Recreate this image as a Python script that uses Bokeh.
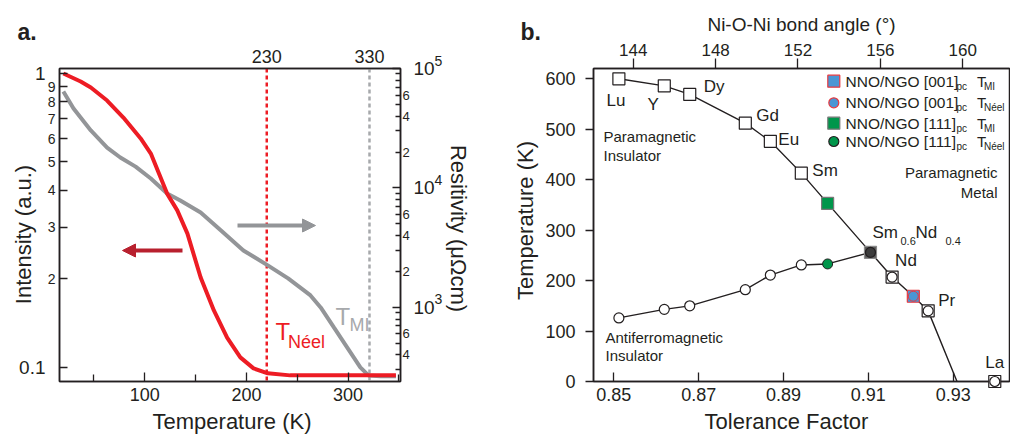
import math
from bokeh.plotting import figure
from bokeh.models import (Range1d, LogAxis, LinearAxis, FixedTicker, LogScale,
                          Arrow, NormalHead, Span)
from bokeh.layouts import row
from bokeh.embed import file_html
from bokeh.resources import INLINE
from bokeh.core.properties import value

FONT = "Liberation Sans"
INK = "#231f20"
RED = "#ed1c24"
DARKRED = "#b8202e"
GRAY = "#939598"
LIGHTGRAY = "#a7a9ac"
BLUE = "#4a96d4"
EDGE_RED = "#e8393f"
GREEN = "#00964b"

# ---------------- Panel a data ----------------
red_temp = [20, 37, 47, 63, 79, 96, 106, 114, 122, 132, 142, 155, 168, 181, 194, 207, 221, 243, 347]
red_intensity = [1.0, 0.939, 0.896, 0.809, 0.708, 0.601, 0.534, 0.457, 0.390, 0.342, 0.285,
                 0.202, 0.156, 0.126, 0.108, 0.0991, 0.0953, 0.0938, 0.0938]
gray_temp = [20, 30, 47, 63, 76, 91, 106, 122, 135, 155, 175, 197, 221, 241, 263, 273, 286,
             299, 312, 320, 332, 347]
gray_resistivity = [64200, 46300, 30300, 21800, 18000, 15100, 12000, 9000, 7860, 6240, 4410,
                    3000, 2250, 1750, 1260, 1000, 680, 463, 315, 270, 265, 265]
transition_temp = [220, 321]
transition_labels = ["230", "330"]
left_ticks = [0.1, 0.2, 0.3, 0.4, 0.5, 0.6, 0.7, 0.8, 0.9, 1.0]
left_tick_labels = ["0.1", "2", "3", "4", "5", "6", "7", "8", "9", "1"]
right_major = [1e3, 1e4, 1e5]
right_minor_labelled = [400, 600, 2000, 4000, 6000, 20000, 40000, 60000]
right_minor_text = ["4", "6", "2", "4", "6", "2", "4", "6"]

# ---------------- Panel b data ----------------
tol_factor = [0.8512, 0.8619, 0.8679, 0.8810, 0.8869, 0.8942, 0.9105, 0.9156, 0.9241, 0.9398]
element = ["Lu", "Y", "Dy", "Gd", "Eu", "Sm", "Sm0.6Nd0.4", "Nd", "Pr", "La"]
t_mi = [600, 586, 569, 512, 476, 413, 256, 207, 140, 0]
t_neel = [126, 143, 150, 182, 211, 231, 256, 207, 140, 0]
film_tf = [0.9206, 0.9004]          # [001]pc, [111]pc
film_tmi = [169, 353]
film_tneel = [169, 233]
tmi_end_tf = 0.9309                 # T_MI extrapolates to 0 K
angle_ticks = [144, 148, 152, 156, 160]
tf_ticks = [0.85, 0.87, 0.89, 0.91, 0.93]
temp_ticks = [0, 100, 200, 300, 400, 500, 600]


def style_axis(ax, size="18px"):
    ax.axis_line_color = INK
    ax.axis_line_width = 1.5
    ax.major_tick_line_color = INK
    ax.minor_tick_line_color = INK
    ax.major_tick_line_width = 1.3
    ax.minor_tick_line_width = 1.3
    ax.major_label_text_font = FONT
    ax.major_label_text_font_size = size
    ax.major_label_text_color = INK
    ax.axis_label_text_font = FONT
    ax.axis_label_text_font_style = "normal"
    ax.axis_label_text_font_size = "20px"
    ax.axis_label_text_color = INK


def lab(p, x, y, text, size, color=INK, align="left", style="normal", baseline="middle", **kw):
    """Text glyph drawn at overlay level (not clipped by the frame)."""
    r = p.text([x], [y], text=[text], text_font=value(FONT), text_font_size=size,
               text_color=color, text_align=align, text_baseline=baseline,
               text_font_style=style, **kw)
    r.level = "overlay"
    return r


# =============== Panel a ===============
AX0, AX1 = 16.2, 351.5
AYL0, AYL1 = 0.0894, 1.04
AYR0, AYR1 = 240.0, 1e5
AL, AT, AW, AH = 59, 68, 341, 313


def a_x(px):
    return AX0 + (px - AL) * (AX1 - AX0) / AW


def a_yl(py):
    l0, l1 = math.log10(AYL0), math.log10(AYL1)
    return 10 ** (l1 - (py - AT) * (l1 - l0) / AH)


def a_yr(py):
    l0, l1 = math.log10(AYR0), math.log10(AYR1)
    return 10 ** (l1 - (py - AT) * (l1 - l0) / AH)


pa = figure(frame_width=AW, frame_height=AH, min_border_left=AL, min_border_right=100,
            min_border_top=AT, min_border_bottom=56, title=None,
            x_range=Range1d(AX0, AX1), y_range=Range1d(AYL0, AYL1), y_axis_type="log",
            output_backend="svg", toolbar_location=None)
pa.extra_y_ranges = {"r": Range1d(AYR0, AYR1)}
pa.extra_y_scales = {"r": LogScale()}
pa.grid.visible = False
pa.outline_line_color = INK
pa.outline_line_width = 1.5

# bottom axis
xa = pa.xaxis[0]
style_axis(xa)
xa.ticker = FixedTicker(ticks=[100, 200, 300], minor_ticks=[50, 150, 250, 350])
xa.major_tick_in, xa.major_tick_out = 9, 0
xa.minor_tick_in, xa.minor_tick_out = 7, 0
xa.major_label_standoff = 6

# left axis
ya = pa.yaxis[0]
style_axis(ya, "14px")
ya.ticker = FixedTicker(ticks=left_ticks, minor_ticks=[])
ya.major_label_overrides = {t: (l_ if len(l_) == 1 and l_ != "1" else "")
                            for t, l_ in zip(left_ticks, left_tick_labels)}
ya.major_tick_in, ya.major_tick_out = 8, 0
ya.major_label_standoff = 4

# top axis
ta = LinearAxis(ticker=FixedTicker(ticks=transition_temp, minor_ticks=[]),
                major_label_overrides=dict(zip(transition_temp, transition_labels)))
style_axis(ta)
ta.major_tick_in, ta.major_tick_out = 0, 0
ta.major_label_standoff = 6
pa.add_layout(ta, "above")

# right axis
minor_r = [m * 10 ** e for e in (2, 3, 4) for m in range(2, 10) if AYR0 <= m * 10 ** e <= AYR1]
ra = LogAxis(y_range_name="r", ticker=FixedTicker(ticks=right_major, minor_ticks=minor_r),
             major_label_overrides={t: "" for t in right_major})
style_axis(ra)
ra.major_tick_in, ra.major_tick_out = 8, 0
ra.minor_tick_in, ra.minor_tick_out = 5, 0
pa.add_layout(ra, "right")

# transition markers
for tt, col in zip(transition_temp, [RED, LIGHTGRAY]):
    pa.add_layout(Span(location=tt, dimension="height", line_color=col, line_width=2.5,
                       line_dash="4 3", level="underlay"))

pa.line(gray_temp, gray_resistivity, y_range_name="r", line_color=GRAY, line_width=4)
pa.line(red_temp, red_intensity, line_color=RED, line_width=4)

# arrows
pa.add_layout(Arrow(end=NormalHead(size=13, fill_color=DARKRED, line_color=DARKRED),
                    x_start=a_x(182), y_start=a_yl(250), x_end=a_x(122), y_end=a_yl(250),
                    line_color=DARKRED, line_width=4))
pa.add_layout(Arrow(end=NormalHead(size=13, fill_color=GRAY, line_color=GRAY),
                    x_start=a_x(237), y_start=a_yr(225), x_end=a_x(315), y_end=a_yr(225),
                    y_range_name="r", line_color=GRAY, line_width=4))

# in-plot labels
lab(pa, a_x(275), a_yl(331), "T", "24px", RED)
lab(pa, a_x(287.5), a_yl(341), "Néel", "18px", RED)
lab(pa, a_x(335), a_yl(316), "T", "24px", LIGHTGRAY)
lab(pa, a_x(349), a_yl(324), "MI", "18px", LIGHTGRAY)

# big left tick labels (outside the frame)
for t, l in zip(left_ticks, left_tick_labels):
    if l in ("1", "0.1"):
        lab(pa, a_x(45), t, l, "19px", align="right")
# right tick labels
for t, l in zip(right_minor_labelled, right_minor_text):
    lab(pa, a_x(402), t, l, "13px", y_range_name="r")
for t in right_major:
    lab(pa, a_x(413), t, "10", "19px", y_range_name="r")
    lab(pa, a_x(434), t, str(int(round(math.log10(t)))), "14px", y_range_name="r", y_offset=-8)

# axis titles
lab(pa, a_x(231.5), a_yl(421), "Temperature (K)", "22px", align="center")
lab(pa, a_x(23), a_yl(234), "Intensity (a.u.)", "22px", align="center", angle=math.pi / 2)
lab(pa, a_x(457.5), a_yl(228), "Resitivity (μΩcm)", "22px", align="center", angle=-math.pi / 2)
lab(pa, a_x(17), a_yl(31), "a.", "23px", style="bold")

# =============== Panel b ===============
BX0, BX1 = 0.845215, 0.943271
BY0, BY1 = 0.0, 620.4
BA0, BA1 = 142.07, 162.27
BL, BT, BW, BH = 93, 68, 416, 313
BORIG = 500


def b_x(px):
    return BX0 + (px - BORIG - BL) * (BX1 - BX0) / BW


def b_y(py):
    return BY1 - (py - BT) * (BY1 - BY0) / BH


pb = figure(frame_width=BW, frame_height=BH, min_border_left=BL, min_border_right=1,
            min_border_top=BT, min_border_bottom=56, title=None,
            x_range=Range1d(BX0, BX1), y_range=Range1d(BY0, BY1),
            output_backend="svg", toolbar_location=None)
pb.extra_x_ranges = {"ang": Range1d(BA0, BA1)}
pb.grid.visible = False
pb.outline_line_color = INK
pb.outline_line_width = 1.5

xb = pb.xaxis[0]
style_axis(xb, "18px")
xb.ticker = FixedTicker(ticks=tf_ticks, minor_ticks=[])
xb.major_tick_in, xb.major_tick_out = 9, 0
xb.major_label_standoff = 6

yb = pb.yaxis[0]
style_axis(yb, "18px")
yb.ticker = FixedTicker(ticks=temp_ticks, minor_ticks=[])
yb.major_tick_in, yb.major_tick_out = 0, 8
yb.major_label_standoff = 10

tb = LinearAxis(x_range_name="ang", ticker=FixedTicker(ticks=angle_ticks, minor_ticks=[]))
style_axis(tb, "17px")
tb.major_tick_in, tb.major_tick_out = 0, 10
tb.major_label_standoff = 3
tb.axis_label = "Ni-O-Ni bond angle (°)"
tb.axis_label_text_font_size = "19px"
tb.axis_label_standoff = 6
pb.add_layout(tb, "above")

# lines
mi_pts = sorted([(x, y) for x, y in zip(tol_factor, t_mi) if x < tmi_end_tf]
                + list(zip(film_tf, film_tmi)) + [(tmi_end_tf, 0)])
pb.line([p[0] for p in mi_pts], [p[1] for p in mi_pts], line_color=INK, line_width=1.4)
neel_pts = sorted([(x, y) for x, y, e in zip(tol_factor, t_neel, element)
                   if x <= tol_factor[element.index("Sm0.6Nd0.4")]]
                  + [(film_tf[1], film_tneel[1])])
pb.line([p[0] for p in neel_pts], [p[1] for p in neel_pts], line_color=INK, line_width=1.4)

# bulk markers
sq_fill = ["#5a5a5a" if e == "Sm0.6Nd0.4" else "white" for e in element]
sq_line = ["#8a8a8a" if e == "Sm0.6Nd0.4" else INK for e in element]
r1 = pb.scatter(tol_factor, t_mi, marker="square", size=12, fill_color=sq_fill, line_color=sq_line,
                line_width=1.2)
ci_fill = ["#3c3c3c" if e == "Sm0.6Nd0.4" else "white" for e in element]
r2 = pb.scatter(tol_factor, t_neel, marker="circle", size=10, fill_color=ci_fill, line_color=INK,
                line_width=1.2)
# film markers
r3 = pb.scatter(film_tf, film_tmi, marker="square", size=12, fill_color=[BLUE, GREEN],
                line_color=[EDGE_RED, "#777777"], line_width=1.2)
r4 = pb.scatter(film_tf, film_tneel, marker="circle", size=10, fill_color=[BLUE, GREEN],
                line_color=[EDGE_RED, INK], line_width=1.0)
for r in (r1, r2, r3, r4):
    r.level = "overlay"

# element labels
txt_kw = dict(text_font=value(FONT), text_color=INK, text_baseline="middle")
center_lab = {"Lu": (-3, 22), "Y": (-11, 19), "La": (0, -19)}
left_lab = {"Dy": (14, -8), "Gd": (11, -8), "Eu": (8, -2), "Sm": (11, -3), "Nd": (3, -17),
            "Pr": (10, -10)}
for group, align in ((center_lab, "center"), (left_lab, "left")):
    names = [e for e in element if e in group]
    pb.text([tol_factor[element.index(e)] for e in names], [t_mi[element.index(e)] for e in names],
            text=names, x_offset=[group[e][0] for e in names], y_offset=[group[e][1] for e in names],
            text_align=align, text_font_size="17px", **txt_kw)
i = element.index("Sm0.6Nd0.4")
for t, size, dx, dy in (("Sm", "17px", 2, -20), ("0.6", "11px", 30, -11), ("Nd", "17px", 45, -20),
                        ("0.4", "11px", 75, -11)):
    pb.text([tol_factor[i]], [t_mi[i]], text=[t], x_offset=[dx], y_offset=[dy], text_align="left",
            text_font_size=size, **txt_kw)

# phase labels
for txt, px, py, align in (("Paramagnetic", 603, 135.5, "left"), ("Insulator", 603, 155, "left"),
                           ("Paramagnetic", 997, 172, "right"), ("Metal", 997, 192, "right"),
                           ("Antiferromagnetic", 605, 336.5, "left"), ("Insulator", 605, 355, "left")):
    lab(pb, b_x(px), b_y(py), txt, "15px", INK, align=align)

# legend (manual, for subscripts)
leg_rows = [(80.7, "square", BLUE, EDGE_RED, "[001]", "MI"),
            (102.3, "circle", BLUE, EDGE_RED, "[001]", "Néel"),
            (122.7, "square", GREEN, "#777777", "[111]", "MI"),
            (141.0, "circle", GREEN, INK, "[111]", "Néel")]
for py, mk, fc, lc, orient, sub in leg_rows:
    pb.scatter([b_x(833.3)], [b_y(py)], marker=mk, size=12 if mk == "square" else 10,
               fill_color=fc, line_color=lc, line_width=1.2)
    lab(pb, b_x(845), b_y(py), "NNO/NGO " + orient, "15.5px")
    lab(pb, b_x(956), b_y(py + 5), "pc", "10px")
    lab(pb, b_x(976.5), b_y(py), "T", "15px")
    lab(pb, b_x(983.5), b_y(py + 5), sub, "10px")

# axis titles
lab(pb, b_x(786), b_y(421), "Tolerance Factor", "22px", align="center")
lab(pb, b_x(525), b_y(220), "Temperature (K)", "22px", align="center", angle=math.pi / 2)
lab(pb, b_x(520), b_y(31), "b.", "23px", style="bold")

layout = row(pa, pb)
open("out.html", "w").write(file_html(layout, INLINE))
